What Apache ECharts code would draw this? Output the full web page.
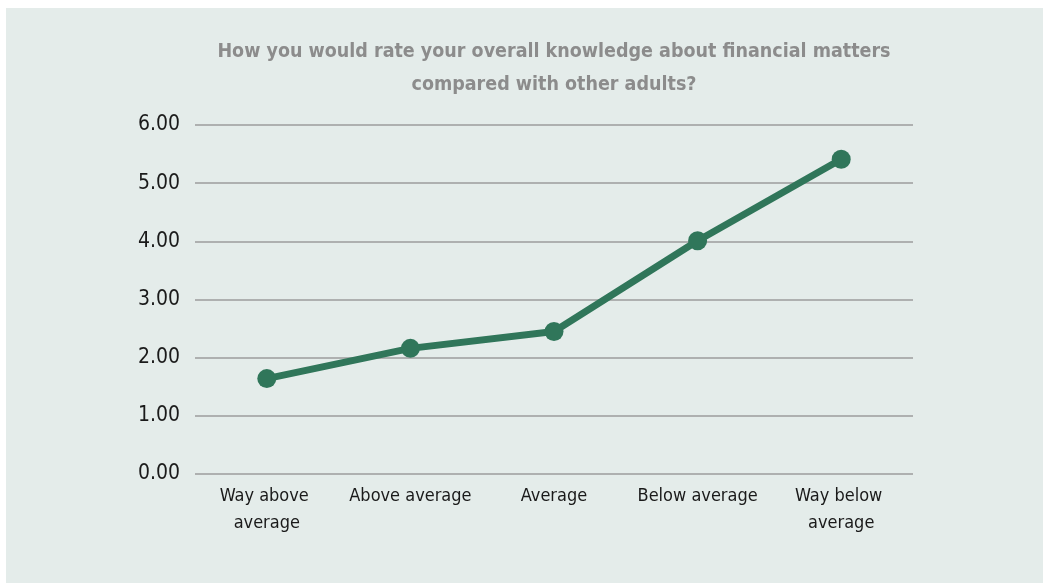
<!DOCTYPE html>
<html>
<head>
<meta charset="utf-8">
<script src="https://cdn.jsdelivr.net/npm/echarts@6/dist/echarts.min.js"></script>
<style>
  html, body { margin: 0; padding: 0; background: #ffffff; }
  #wrap { position: relative; width: 1043px; height: 583px; overflow: hidden; }
  #panel { position: absolute; left: 6px; top: 8px; right: 0; bottom: 0; background: #e4ecea; }
  #chart { position: absolute; left: 0; top: 0; width: 1043px; height: 583px; }
</style>
</head>
<body>
<div id="wrap">
  <div id="panel"></div>
  <div id="chart"></div>
</div>
<script>
  // Self-rated financial knowledge compared with other adults
  const titleText = 'How you would rate your overall knowledge about financial matters\ncompared with other adults?';
  const categories = ['Way above average', 'Above average', 'Average', 'Below average', 'Way below average'];
  const scores = [1.64, 2.16, 2.45, 4.01, 5.41];
  const yTicks = { min: 0, max: 6, interval: 1 };

  const FONT = "'Liberation Sans Narrow', 'Arial Narrow', 'DejaVu Sans Condensed', sans-serif";

  const chart = echarts.init(document.getElementById('chart'), null, { renderer: 'canvas' });
  chart.setOption({
    backgroundColor: 'transparent',
    animation: false,
    title: {
      text: titleText,
      left: 554,
      top: 35,
      padding: 0,
      textAlign: 'center',
      textStyle: {
        fontFamily: FONT,
        fontWeight: 'bold',
        fontSize: 19.5,
        lineHeight: 33,
        color: '#8c8c8c'
      }
    },
    grid: { left: 195, right: 130, top: 125, bottom: 109, containLabel: false },
    xAxis: {
      type: 'category',
      data: categories,
      boundaryGap: true,
      axisLine: { show: false },
      axisTick: { show: false },
      axisLabel: {
        interval: 0,
        margin: 9,
        width: 136,
        overflow: 'break',
        fontFamily: FONT,
        fontSize: 18,
        lineHeight: 27,
        color: '#1a1a1a'
      }
    },
    yAxis: {
      type: 'value',
      min: yTicks.min,
      max: yTicks.max,
      interval: yTicks.interval,
      axisLine: { show: false },
      axisTick: { show: false },
      splitLine: { show: true, lineStyle: { color: '#9c9c9c', width: 1.5 } },
      axisLabel: {
        margin: 15,
        fontFamily: FONT,
        fontSize: 21,
        color: '#1a1a1a',
        formatter: v => v.toFixed(2)
      }
    },
    series: [{
      type: 'line',
      data: scores,
      symbol: 'circle',
      symbolSize: 19,
      lineStyle: { color: '#30765a', width: 7 },
      itemStyle: { color: '#30765a' }
    }]
  });
</script>
</body>
</html>
